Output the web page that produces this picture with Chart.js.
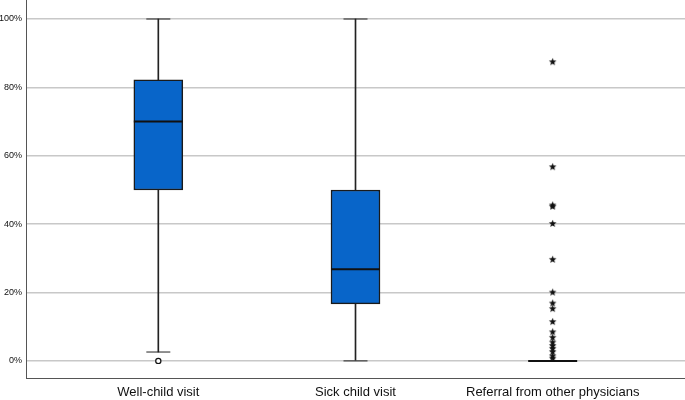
<!DOCTYPE html>
<html>
<head>
<meta charset="utf-8">
<script src="https://cdn.jsdelivr.net/npm/chart.js@4.4.1/dist/chart.umd.min.js"></script>
<style>
html,body{margin:0;padding:0;background:#fff;}
#wrap{width:685px;height:400px;position:relative;}
</style>
</head>
<body>
<div id="wrap"><canvas id="c"></canvas></div>
<script>
const categories = ["Well-child visit", "Sick child visit", "Referral from other physicians"];
const whiskerLow = [2.6, 0, 0];
const q1 = [50, 16.7, 0];
const median = [70, 26.8, 0];
const q3 = [82.2, 50, 0];
const whiskerHigh = [100, 100, 0];
const circleOutliers = [[1, 0]];
const starOutliers = [
  [3, 87.5], [3, 56.8], [3, 45.6], [3, 45.2], [3, 40.2], [3, 29.7],
  [3, 20.1], [3, 16.9], [3, 15.3], [3, 11.5], [3, 8.5], [3, 6.9],
  [3, 5.5], [3, 4.5], [3, 3.7], [3, 2.7], [3, 1.5], [3, 0.8]
];
const yTicks = [0, 20, 40, 60, 80, 100];

// star marker image
const starImg = document.createElement('canvas');
starImg.width = 9; starImg.height = 9;
(function(){
  const g = starImg.getContext('2d');
  g.fillStyle = '#111';
  g.beginPath();
  for (let i = 0; i < 10; i++) {
    const r = i % 2 === 0 ? 4 : 1.7;
    const a = -Math.PI / 2 + i * Math.PI / 5;
    const px = 4.5 + r * Math.cos(a), py = 4.7 + r * Math.sin(a);
    if (i === 0) g.moveTo(px, py); else g.lineTo(px, py);
  }
  g.closePath();
  g.fill();
})();

const idx = categories.map((_, i) => i + 1);
const whiskerData = [];
idx.forEach((x, i) => {
  if (whiskerLow[i] < q1[i]) whiskerData.push({x: x, y: [whiskerLow[i], q1[i]]});
  if (q3[i] < whiskerHigh[i]) whiskerData.push({x: x, y: [q3[i], whiskerHigh[i]]});
});
const capData = [];
idx.forEach((x, i) => {
  if (whiskerLow[i] !== whiskerHigh[i]) {
    capData.push({x: x, y: whiskerLow[i]});
    capData.push({x: x, y: whiskerHigh[i]});
  }
});

function noPad(s) {
  s.paddingLeft = 0; s.paddingRight = 0; s.paddingTop = 0; s.paddingBottom = 0;
}

new Chart(document.getElementById('c'), {
  type: 'bar',
  data: {
    datasets: [
      {
        type: 'scatter', label: 'circles',
        data: circleOutliers.map(p => ({x: p[0], y: p[1]})),
        pointStyle: 'circle', pointRadius: 2.6, borderWidth: 1.2,
        borderColor: '#111', backgroundColor: '#fff', order: 0
      },
      {
        type: 'scatter', label: 'stars',
        data: starOutliers.map(p => ({x: p[0], y: p[1]})),
        pointStyle: starImg, pointRadius: 4, order: 0
      },
      {
        type: 'scatter', label: 'median',
        data: idx.map((x, i) => ({x: x, y: median[i]})),
        pointStyle: 'line', pointRadius: 24.5, borderWidth: 2,
        borderColor: '#111', order: 1
      },
      {
        label: 'box',
        data: idx.map((x, i) => ({x: x, y: [q1[i], q3[i]]})),
        backgroundColor: '#0865c9', borderColor: '#1a1a1a', borderWidth: 1.5,
        borderSkipped: false, barThickness: 49, grouped: false, order: 2
      },
      {
        type: 'scatter', label: 'caps',
        data: capData,
        pointStyle: 'line', pointRadius: 12, borderWidth: 1,
        borderColor: '#222', order: 3
      },
      {
        label: 'whiskers',
        data: whiskerData,
        backgroundColor: '#222', borderWidth: 0,
        barThickness: 1, grouped: false, order: 4
      }
    ]
  },
  options: {
    responsive: true, maintainAspectRatio: false, animation: false,
    layout: {padding: 0, autoPadding: false},
    plugins: {legend: {display: false}, tooltip: {enabled: false}},
    scales: {
      x: {
        type: 'linear', min: 0.329, max: 3.671, offset: false,
        afterBuildTicks: s => { s.ticks = idx.map(v => ({value: v})); },
        afterFit: s => { s.height = 22; noPad(s); },
        grid: {display: false, offset: false, drawTicks: false},
        border: {display: true, color: '#555', width: 1},
        ticks: {
          callback: v => categories[v - 1] || '',
          color: '#111', padding: 7, maxRotation: 0, autoSkip: false,
          font: {family: '"Liberation Sans", Arial, sans-serif', size: 13}
        }
      },
      y: {
        min: -5, max: 105.56,
        afterBuildTicks: s => { s.ticks = yTicks.map(v => ({value: v})); },
        afterFit: s => { s.width = 26; noPad(s); },
        grid: {color: '#c8c8c8', lineWidth: 1.5, drawTicks: false},
        border: {display: true, color: '#555', width: 1},
        ticks: {
          callback: v => v + '%',
          color: '#111', padding: 4,
          font: {family: '"Liberation Sans", Arial, sans-serif', size: 9}
        }
      }
    }
  }
});
</script>
</body>
</html>
